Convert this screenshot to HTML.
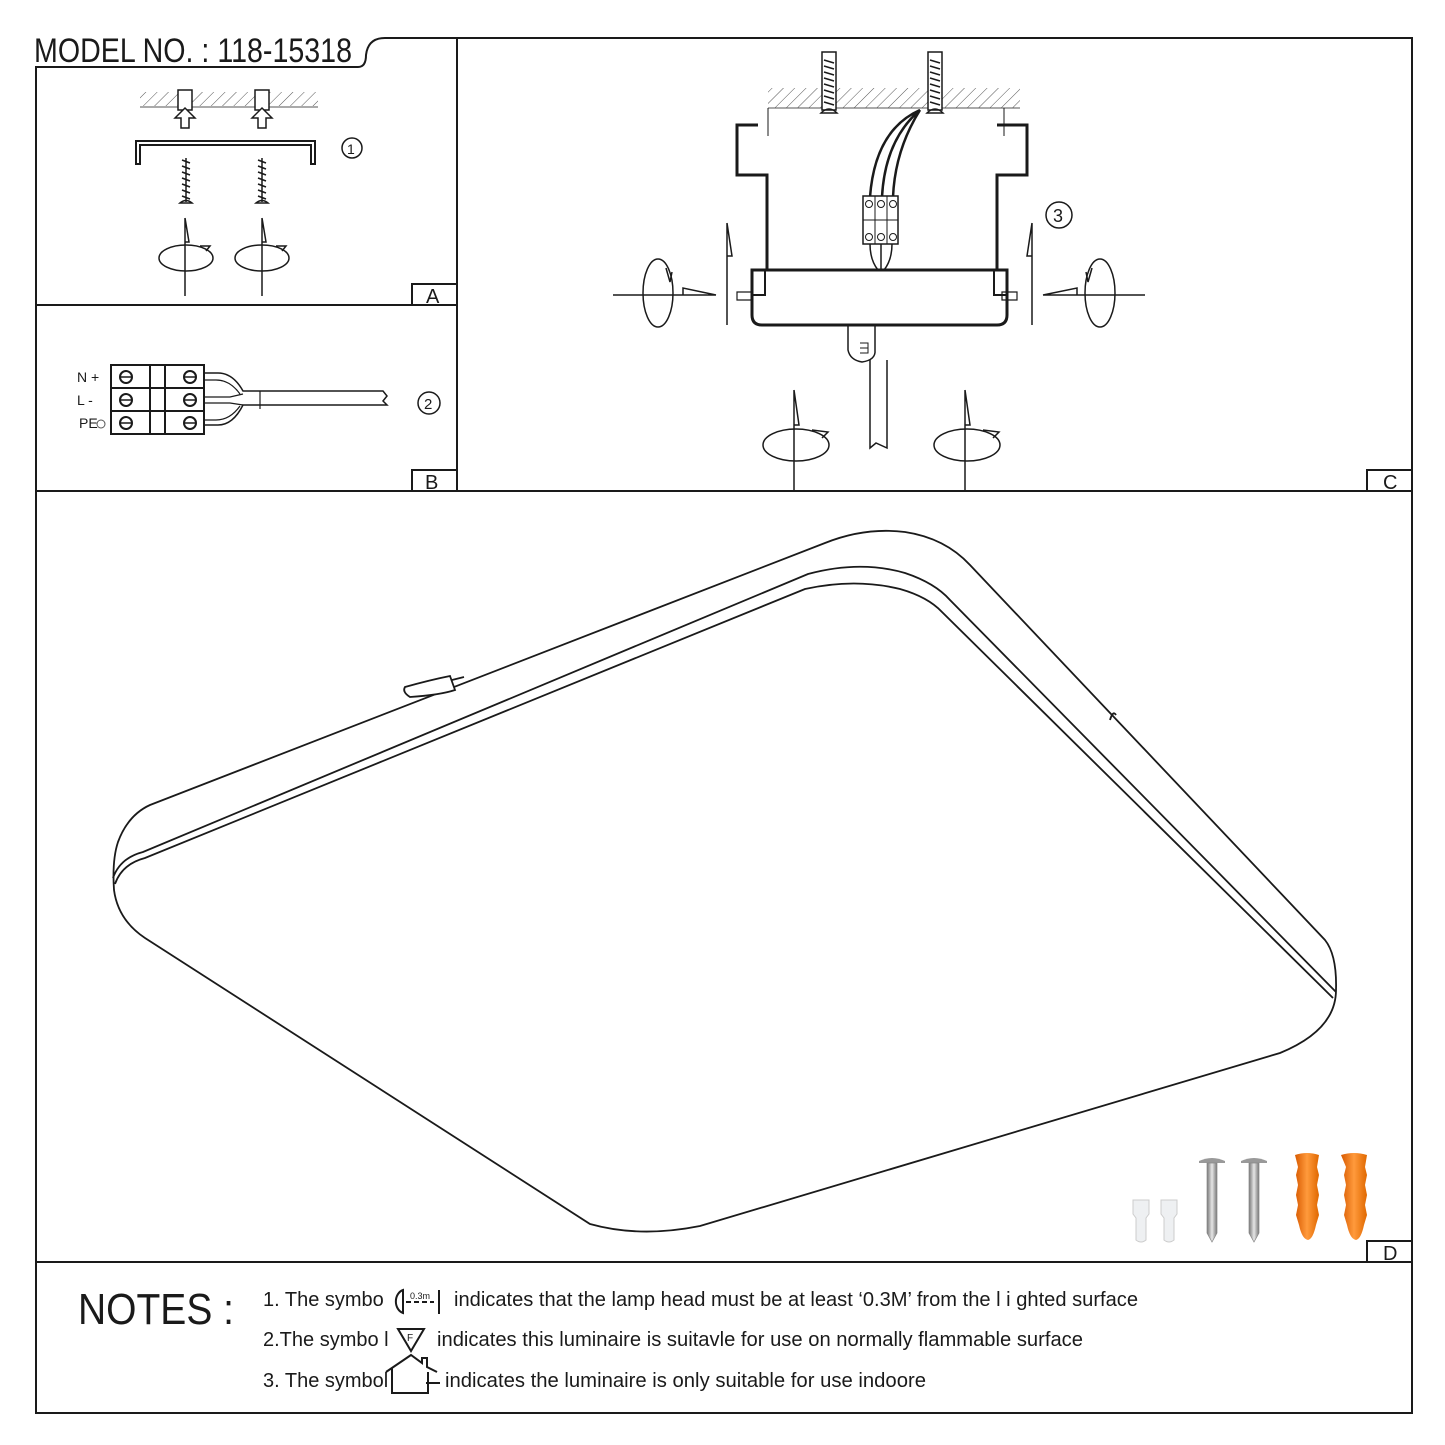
<!DOCTYPE html>
<html><head><meta charset="utf-8"><style>
html,body{margin:0;padding:0;background:#fff;}
svg{display:block;}
text{font-family:"Liberation Sans",sans-serif;fill:#1a1a1a;}
</style></head><body>
<svg width="1445" height="1445" viewBox="0 0 1445 1445" xmlns="http://www.w3.org/2000/svg">
<defs>
<pattern id="hatch" width="8" height="8" patternUnits="userSpaceOnUse" patternTransform="rotate(45)">
<line x1="0" y1="0" x2="0" y2="8" stroke="#555" stroke-width="1"/>
</pattern>
<linearGradient id="steel" x1="0" x2="1"><stop offset="0" stop-color="#777"/><stop offset="0.5" stop-color="#e6e6e6"/><stop offset="1" stop-color="#777"/></linearGradient>
<linearGradient id="orng" x1="0" x2="1"><stop offset="0" stop-color="#d85a00"/><stop offset="0.5" stop-color="#ff9a3c"/><stop offset="1" stop-color="#e06800"/></linearGradient>
</defs>
<g fill="none" stroke="#1a1a1a" stroke-width="2">
<path d="M36 67 H358 Q366 67 366 55 Q368 38 385 38 H1412 V1413 H36 Z"/>
<line x1="457" y1="38" x2="457" y2="491"/>
<line x1="36" y1="305" x2="457" y2="305"/>
<line x1="36" y1="491" x2="1412" y2="491"/>
<line x1="36" y1="1262" x2="1412" y2="1262"/>
<path d="M412 305 V284 H457"/><path d="M412 491 V470 H457"/>
<path d="M1367 491 V470 H1412"/><path d="M1367 1262 V1241 H1412"/>
</g>
<text x="34" y="62" font-size="34" textLength="318" lengthAdjust="spacingAndGlyphs">MODEL NO. : 118-15318</text>
<text x="426" y="303" font-size="20">A</text>
<text x="425" y="489" font-size="20">B</text>
<text x="1383" y="489" font-size="20">C</text>
<text x="1383" y="1260" font-size="20">D</text>

<!-- Panel A -->
<rect x="140" y="92" width="178" height="14" fill="url(#hatch)"/>
<line x1="140" y1="107" x2="318" y2="107" stroke="#555" stroke-width="1"/>
<g fill="#fff" stroke="#1a1a1a" stroke-width="1.5">
<path d="M178 90 h14 v20 h-14z"/><path d="M175 118 l10 -10 l10 10 h-6 v10 h-8 v-10z"/>
<path d="M255 90 h14 v20 h-14z"/><path d="M252 118 l10 -10 l10 10 h-6 v10 h-8 v-10z"/>
</g>
<path d="M136 164 V141 H315 V164 H311 V145 H140 V164 Z" fill="#fff" stroke="#1a1a1a" stroke-width="2"/>
<circle cx="352" cy="148" r="10" fill="none" stroke="#1a1a1a" stroke-width="1.5"/>
<text x="347" y="154" font-size="14">1</text>
<g stroke="#1a1a1a" stroke-width="1.5" fill="none">
<path d="M186 158 v44 M182 160 l8 3 M182 166 l8 3 M182 172 l8 3 M182 178 l8 3 M182 184 l8 3 M182 190 l8 3 M182 196 l8 3"/>
<path d="M180 203 q6 -5 12 0z"/>
<path d="M262 158 v44 M258 160 l8 3 M258 166 l8 3 M258 172 l8 3 M258 178 l8 3 M258 184 l8 3 M258 190 l8 3 M258 196 l8 3"/>
<path d="M256 203 q6 -5 12 0z"/>
<path d="M185 218 V296 M185 218 l4 24 h-4"/>
<path d="M262 218 V296 M262 218 l4 24 h-4"/>
<ellipse cx="186" cy="258" rx="27" ry="13"/>
<ellipse cx="262" cy="258" rx="27" ry="13"/>
<path d="M200 246 l10 0 l-4 5 M276 246 l10 0 l-4 5"/>
</g>

<!-- Panel B -->
<text x="77" y="382" font-size="14">N +</text>
<text x="77" y="405" font-size="14">L  -</text>
<text x="79" y="428" font-size="14">PE</text>
<circle cx="101" cy="424" r="4" fill="none" stroke="#555" stroke-width="1"/>
<g fill="none" stroke="#1a1a1a" stroke-width="2">
<rect x="111" y="365" width="93" height="69"/>
<line x1="111" y1="388" x2="204" y2="388"/><line x1="111" y1="411" x2="204" y2="411"/>
<line x1="150" y1="365" x2="150" y2="434"/><line x1="165" y1="365" x2="165" y2="434"/>
<circle cx="126" cy="377" r="6"/><circle cx="126" cy="400" r="6"/><circle cx="126" cy="423" r="6"/>
<circle cx="190" cy="377" r="6"/><circle cx="190" cy="400" r="6"/><circle cx="190" cy="423" r="6"/>
<path d="M120 377 h12 M120 400 h12 M120 423 h12 M184 377 h12 M184 400 h12 M184 423 h12" stroke-width="1.5"/>
<path d="M204 373 h14 q15 0 25 18 h140 l4 5 l-4 5 l4 4 h-144 q-10 20 -25 20 h-14" stroke-width="1.5"/>
<path d="M204 380 h12 q14 0 24 14 M204 397 h26 l13 -3 M204 403 h26 l13 2 M204 420 h12 q14 0 24 -14" stroke-width="1.2"/>
<line x1="260" y1="391" x2="260" y2="409" stroke-width="1.2"/>
</g>
<circle cx="429" cy="403" r="11" fill="none" stroke="#1a1a1a" stroke-width="1.5"/>
<text x="424" y="409" font-size="15">2</text>

<!-- Panel C -->
<rect x="768" y="88" width="252" height="20" fill="url(#hatch)"/>
<line x1="768" y1="108" x2="1020" y2="108" stroke="#555" stroke-width="1"/>
<g fill="none" stroke="#1a1a1a">
<path d="M768 108 V136 M1004 108 V136" stroke-width="1"/>
<path d="M758 125 H737 V175 H767 V270 M997 125 H1027 V175 H997 V270" stroke-width="3"/>
<path d="M752 270 H1007 V315 Q1007 325 997 325 H762 Q752 325 752 315 Z" stroke-width="3"/>
<path d="M765 270 V295 H752 M994 270 V295 H1007" stroke-width="2"/>
<rect x="822" y="52" width="14" height="58" fill="#fff" stroke-width="1.5"/>
<rect x="928" y="52" width="14" height="58" fill="#fff" stroke-width="1.5"/>
<path d="M824 60 l10 3 M824 66 l10 3 M824 72 l10 3 M824 78 l10 3 M824 84 l10 3 M824 90 l10 3 M824 96 l10 3 M824 102 l10 3 M930 60 l10 3 M930 66 l10 3 M930 72 l10 3 M930 78 l10 3 M930 84 l10 3 M930 90 l10 3 M930 96 l10 3 M930 102 l10 3" stroke-width="1.5"/>
<path d="M821 113 q8 -8 16 0z M927 113 q8 -8 16 0z" stroke-width="1.5"/>
<path d="M920 110 Q875 130 870 197 M920 110 Q885 140 882 197 M920 110 Q895 150 893 197" stroke-width="2.5"/>
<rect x="863" y="196" width="35" height="48" fill="#fff" stroke-width="1.5"/>
<path d="M863 220 H898 M875 196 V244 M887 196 V244" stroke-width="1"/>
<circle cx="869" cy="204" r="3.5"/><circle cx="881" cy="204" r="3.5"/><circle cx="893" cy="204" r="3.5"/>
<circle cx="869" cy="237" r="3.5"/><circle cx="881" cy="237" r="3.5"/><circle cx="893" cy="237" r="3.5"/>
<path d="M870 244 Q870 260 878 270 M892 244 Q892 260 884 270 M881 244 V270" stroke-width="1.5"/>
<path d="M848 325 V350 Q850 360 862 362 Q876 360 875 350 V325" stroke-width="1.5"/>
<path d="M870 360 V448 L876 443 L887 448 V360" stroke-width="1.5"/>
<path d="M860 343 h8 v10 h-8 M860 348 h8" stroke-width="1"/>
<path d="M737 292 h15 v8 h-15z M1017 292 h-15 v8 h15z" stroke-width="1.2"/>
<path d="M613 295 H716 M683 295 V288 L716 295 M1145 295 H1043 M1077 295 V288 L1043 295" stroke-width="1.5"/>
<path d="M727 223 V325 M727 223 l5 33 h-5 M1032 223 V325 M1032 223 l-5 33 h5" stroke-width="1.5"/>
<ellipse cx="658" cy="293" rx="15" ry="34" stroke-width="1.5"/>
<ellipse cx="1100" cy="293" rx="15" ry="34" stroke-width="1.5"/>
<path d="M666 268 l4 14 l2 -10 M1092 268 l-4 14 l-2 -10" stroke-width="1.5"/>
<path d="M794 390 V490 M794 390 l5 35 h-5 M965 390 V490 M965 390 l5 35 h-5" stroke-width="1.5"/>
<ellipse cx="796" cy="445" rx="33" ry="16" stroke-width="1.5"/>
<ellipse cx="967" cy="445" rx="33" ry="16" stroke-width="1.5"/>
<path d="M812 430 l16 2 l-6 6 M983 430 l16 2 l-6 6" stroke-width="1.5"/>
</g>
<circle cx="1059" cy="215" r="13" fill="none" stroke="#1a1a1a" stroke-width="1.5"/>
<text x="1053" y="222" font-size="18">3</text>

<!-- Panel D lamp -->
<g fill="none" stroke="#1a1a1a" stroke-width="1.8">
<path d="M150 805 L825 543 Q865 527 905 532 Q945 538 970 565 L1325 940 Q1337 955 1336 990 Q1336 1030 1280 1053 L700 1226 Q640 1238 590 1224 L145 938 Q118 920 114 890 Q112 860 118 842 Q128 815 150 805 Z"/>
<path d="M113 878 Q120 858 143 852 L808 574 Q860 560 905 573 Q935 583 950 600 L1336 992"/>
<path d="M115 884 Q122 864 145 858 L805 589 Q855 578 900 589 Q928 597 942 612 L1333 998"/>
<path d="M405 687 Q430 680 450 676 L455 690 Q440 695 410 697 Q402 692 405 687Z" fill="#fff"/>
<path d="M452 680 l12 -3 M1110 720 q3 -10 6 -5"/>
</g>
<g>
<path d="M1133 1200 h16 v14 l-3 4 v22 q-5 4 -10 0 v-22 l-3 -4z" fill="#eef0f2" stroke="#ccc"/>
<path d="M1161 1200 h16 v14 l-3 4 v22 q-5 4 -10 0 v-22 l-3 -4z" fill="#eef0f2" stroke="#ccc"/>
<path d="M1199 1161 q13 -6 26 0 v2 h-26z" fill="#999"/>
<path d="M1207 1163 h10 v70 l-5 9 l-5 -9z" fill="url(#steel)" stroke="#888" stroke-width="0.7"/>
<path d="M1241 1161 q13 -6 26 0 v2 h-26z" fill="#999"/>
<path d="M1249 1163 h10 v70 l-5 9 l-5 -9z" fill="url(#steel)" stroke="#888" stroke-width="0.7"/>
<path d="M1295 1155 q12 -4 24 0 l-2 12 l2 8 l-2 10 l2 10 l-2 10 l2 10 l-3 10 q-3 14 -8 15 q-6 -1 -9 -15 l-3 -10 l2 -10 l-2 -10 l2 -10 l-2 -10 l2 -8z" fill="url(#orng)"/>
<path d="M1341 1155 q13 -4 26 0 l-2 12 l2 8 l-2 10 l2 10 l-2 10 l2 10 l-3 10 q-3 14 -8 15 q-6 -1 -9 -15 l-3 -10 l2 -10 l-2 -10 l2 -10 l-2 -10 l2 -8z" fill="url(#orng)"/>
</g>

<!-- Notes -->
<text x="78" y="1324" font-size="44" textLength="156" lengthAdjust="spacingAndGlyphs">NOTES :</text>
<g font-size="20">
<text x="263" y="1306">1. The symbo</text>
<text x="454" y="1306" textLength="684" lengthAdjust="spacingAndGlyphs">indicates that the lamp head must be at least ‘0.3M’ from the l i ghted surface</text>
<text x="263" y="1346">2.The symbo l</text>
<text x="437" y="1346" textLength="646" lengthAdjust="spacingAndGlyphs">indicates this luminaire is suitavle for use on normally flammable surface</text>
<text x="263" y="1387">3. The symbol</text>
<text x="445" y="1387" textLength="481" lengthAdjust="spacingAndGlyphs">indicates the luminaire is only suitable for use indoore</text>
</g>
<g fill="none" stroke="#1a1a1a" stroke-width="2">
<path d="M403 1290 A10 12 0 0 0 403 1313 Z"/>
<path d="M406 1302 h28" stroke-dasharray="5 3"/>
<path d="M439 1290 V1314"/>
<path d="M398 1329 h26 l-13 22z"/>
<path d="M386 1372 L411 1355 L422 1363 V1358 H427 V1367 L437 1372 M392 1368 V1393 H428 V1372 M426 1383 H440"/>
</g>
<text x="410" y="1299" font-size="9">0.3m</text>
<text x="407" y="1341" font-size="10">F</text>
</svg>
</body></html>
